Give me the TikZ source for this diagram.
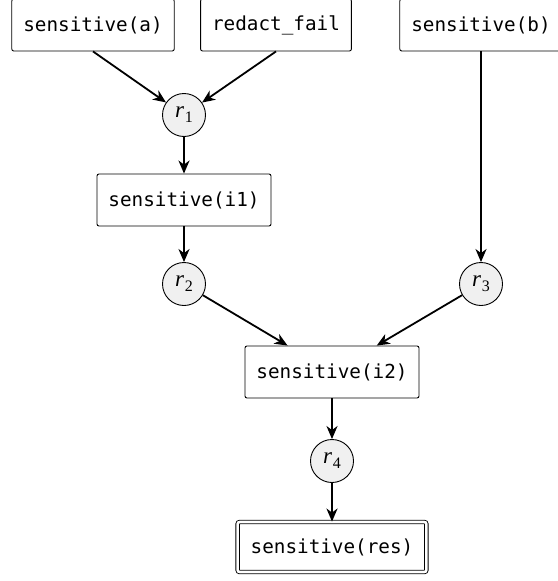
\documentclass[tikz,border=0pt]{standalone}
\usepackage{fontspec}
\setmonofont{DejaVu Sans Mono}
\newfontfamily\labelfont{Liberation Serif}
\usetikzlibrary{arrows.meta}
\definecolor{circfill}{HTML}{F0F0F0}
\newcommand{\rsub}[1]{\textit{r}\kern0.5pt\raisebox{-5pt}{\fontsize{16}{16}\selectfont #1}}
\begin{document}
\begin{tikzpicture}[x=1pt,y=-1pt,
  box/.style={draw, line width=0.9pt, rounded corners=2pt, minimum height=52pt, inner xsep=11.5pt, inner ysep=0pt, font=\fontsize{19.3}{23}\selectfont\ttfamily},
  rnode/.style={circle, draw, line width=0.9pt, fill=circfill, minimum size=43pt, inner sep=0pt, font=\fontsize{23}{26}\selectfont\labelfont},
  arr/.style={-{Stealth[length=13pt,width=11pt,inset=4pt]}, line width=1.8pt},
  resbox/.style={box, double, double distance=2.6pt, line width=0.9pt, minimum height=50pt, inner xsep=13pt}]
\useasboundingbox (0,0) rectangle (557,581);
\node[box] (a) at (93,25) {sensitive(a)};
\node[box] (redact) at (276,25) {redact\_fail};
\node[box] (b) at (481,25) {sensitive(b)};
\node[rnode] (r1) at (184,115) {\rsub{1}};
\node[box] (i1) at (184,200) {sensitive(i1)};
\node[rnode] (r2) at (184,284) {\rsub{2}};
\node[rnode] (r3) at (481,284) {\rsub{3}};
\node[box] (i2) at (332,372) {sensitive(i2)};
\node[rnode] (r4) at (332,461) {\rsub{4}};
\node[resbox] (res) at (332,547) {sensitive(res)};
\draw[arr] (a.south) -- (r1);
\draw[arr] (redact.south) -- (r1);
\draw[arr] (r1) -- (i1);
\draw[arr] (i1) -- (r2);
\draw[arr] (b) -- (r3);
\draw[arr] (r2) -- (i2);
\draw[arr] (r3) -- (i2);
\draw[arr] (i2) -- (r4);
\draw[arr] (r4) -- (res);
\end{tikzpicture}
\end{document}
